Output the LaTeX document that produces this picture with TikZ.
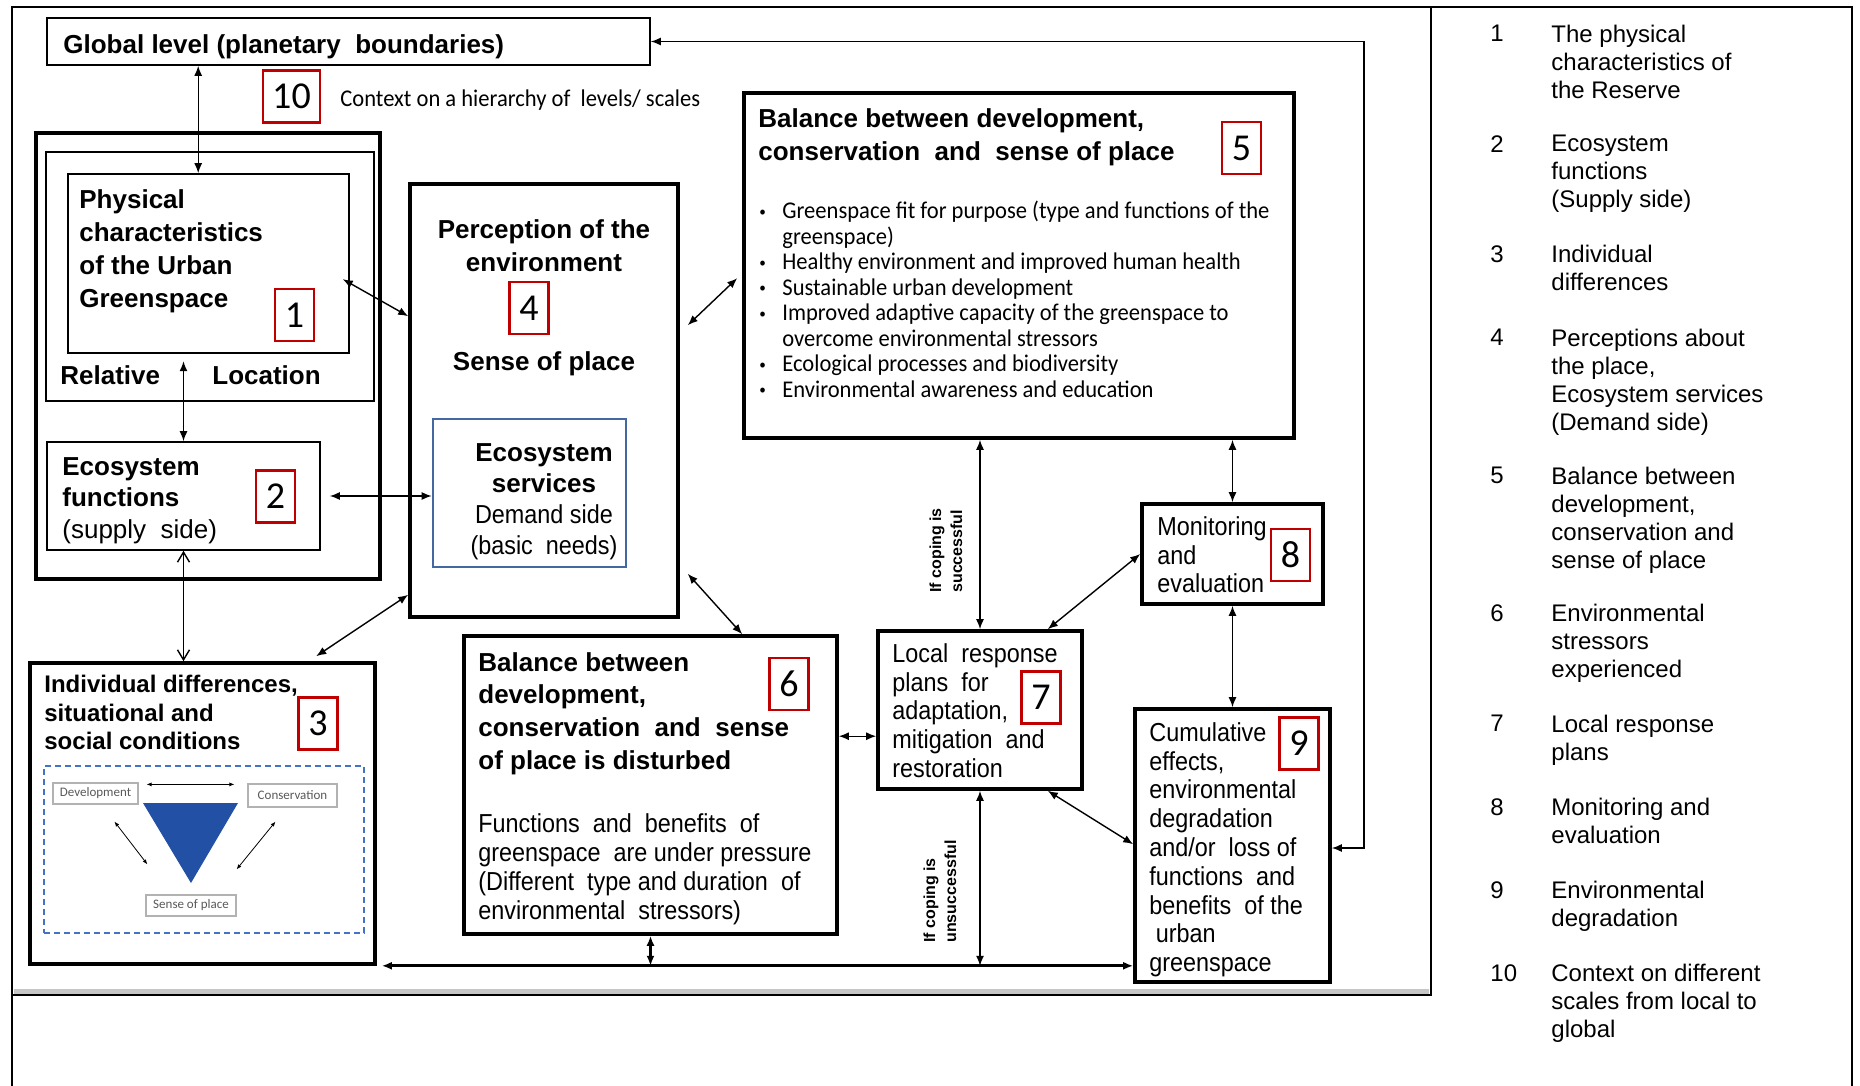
\documentclass[tikz,border=0pt]{standalone}
\usepackage{fontspec}
\setmainfont{Liberation Sans}
\newfontfamily\narrowfont[FakeStretch=0.9]{Liberation Sans}
\newfontfamily\calnarrow[FakeStretch=0.94]{Carlito}
\newfontfamily\calfont{Carlito}
\usetikzlibrary{arrows.meta,calc,fit}

\definecolor{numred}{RGB}{192,0,0}
\definecolor{esblue}{RGB}{68,104,160}
\definecolor{dashblue}{RGB}{68,114,196}
\definecolor{triblue}{RGB}{33,80,165}

\tikzset{>={Latex[length=5pt,width=4pt]}}
\tikzset{
  thinbox/.style={draw, line width=0.8pt, inner sep=0pt},
  thickbox/.style={draw, line width=1.8pt, inner sep=0pt},
  numbox/.style={draw=numred, line width=1.3pt, inner sep=3pt, minimum width=19.5pt,
    minimum height=26pt, font=\calfont\fontsize{19}{19}\selectfont},
  boldtxt/.style={anchor=north west, inner sep=0pt, align=left,
    font=\bfseries\fontsize{13}{16.5}\selectfont},
  plaintxt/.style={anchor=north west, inner sep=0pt, align=left,
    font=\narrowfont\fontsize{13}{14.4}\selectfont},
  link/.style={<->, line width=0.7pt},
  legnum/.style={anchor=north west, inner sep=0pt, font=\fontsize{12}{13.9}\selectfont},
  legtxt/.style={legnum, align=left},
  copetxt/.style={rotate=90, anchor=north west, inner sep=0pt, align=left,
    font=\bfseries\fontsize{8}{10.5}\selectfont},
  minibox/.style={draw=gray!60, fill=white, line width=0.6pt, inner sep=0pt,
    text=gray!70!black, font=\calfont\fontsize{6.5}{7}\selectfont},
  miniarrow/.style={>={Latex[length=2.5pt,width=2pt]}, <->, line width=0.4pt}
}

\newcommand{\blt}{\makebox[11.5pt][l]{\raisebox{0.25ex}{\fontsize{7}{7}\selectfont\textbullet}}}
\newcommand{\bltgap}{\hspace*{11.5pt}}

\begin{document}
\begin{tikzpicture}[x=0.5pt,y=-0.5pt]
\useasboundingbox (0,0) rectangle (1860,1086);

% outer frame and legend column
\draw[line width=1pt] (12,1086) -- (12,7) -- (1852,7) -- (1852,1086);
\draw[gray!45, line width=2.5pt] (14,991) -- (1429,991);
\draw[line width=1.4pt] (12,7) rectangle (1431,995);

% boxes
\node[thinbox, fit={(47,18) (650,65)}] (glob) {};
\node[thickbox, fit={(36,133) (380,579)}] (grp) {};
\node[thinbox, fit={(46,152) (374,401)}] (loc) {};
\node[thinbox, fit={(68,174) (349,353)}] (b1) {};
\node[thinbox, fit={(47,442) (320,550)}] (b2) {};
\node[thickbox, fit={(30,663) (375,964)}] (b3) {};
\node[thickbox, fit={(410,184) (678,617)}] (b4) {};
\node[draw=esblue, line width=1.3pt, inner sep=0pt, fit={(433,419) (626,567)}] (es) {};
\node[thickbox, fit={(744,93) (1294,438)}] (b5) {};
\node[thickbox, fit={(464,636) (837,934)}] (b6) {};
\node[thickbox, fit={(878,631) (1082,789)}] (b7) {};
\node[thickbox, fit={(1142,504) (1323,604)}] (b8) {};
\node[thickbox, fit={(1135,709) (1330,982)}] (b9) {};

% box texts
\node[boldtxt] (globtxt) at (63,34) {Global level (planetary\ \ boundaries)};
\node[anchor=base west, inner sep=0pt, font=\calnarrow\fontsize{12}{12}\selectfont] (ctx)
  at (340,107) {Context on a hierarchy of\ \ levels/ scales};
\node[boldtxt] (b1txt) at (79,189) {Physical\\characteristics\\of the Urban\\Greenspace};
\node[boldtxt, anchor=west] (rel) at (60,375) {Relative};
\node[boldtxt, anchor=west] (lctn) at (212,375) {Location};
\node[boldtxt, font=\bfseries\fontsize{13}{15.8}\selectfont] (b2txt) at (62,457)
  {Ecosystem\\functions\\\textmd{(supply\ \ side)}};
\node[boldtxt, font=\bfseries\fontsize{12}{14.25}\selectfont] (b3txt) at (44,675)
  {Individual differences,\\situational and\\social conditions};
\node[boldtxt, anchor=north, align=center] (b4txt) at (544,219) {Perception of the\\environment};
\node[anchor=base, inner sep=0pt, font=\bfseries\fontsize{13}{16}\selectfont] (sop4)
  at (544,370) {Sense of place};
\node[boldtxt, anchor=north, align=center, font=\bfseries\fontsize{13}{15.5}\selectfont] (estxt)
  at (544,443) {Ecosystem\\services\\{\narrowfont\mdseries Demand side}\\{\narrowfont\mdseries (basic\ \ needs)}};
\node[boldtxt] (b5txt) at (758,108) {Balance between development,\\conservation\ \ and\ \ sense of place};
\node[anchor=north west, inner sep=0pt, align=left, font=\calnarrow\fontsize{12}{12.75}\selectfont] (b5list)
  at (759,201) {\blt Greenspace fit for purpose (type and functions of the\\
  \bltgap greenspace)\\
  \blt Healthy environment and improved human health\\
  \blt Sustainable urban development\\
  \blt Improved adaptive capacity of the greenspace to\\
  \bltgap overcome environmental stressors\\
  \blt Ecological processes and biodiversity\\
  \blt Environmental awareness and education};
\node[boldtxt, font=\bfseries\fontsize{13}{16.3}\selectfont] (b6txt) at (478,652)
  {Balance between\\development,\\conservation\ \ and\ \ sense\\of place is disturbed};
\node[plaintxt, font=\narrowfont\fontsize{13}{14.5}\selectfont] (b6body) at (478,813)
  {Functions\ \ and\ \ benefits\ \ of\\greenspace\ \ are under pressure\\(Different\ \ type and duration\ \ of\\environmental\ \ stressors)};
\node[plaintxt] (b7txt) at (892,643) {Local\ \ response\\plans\ \ for\\adaptation,\\mitigation\ \ and\\restoration};
\node[plaintxt] (b8txt) at (1157,516) {Monitoring\\and\\evaluation};
\node[plaintxt] (b9txt) at (1149,722) {Cumulative\\effects,\\environmental\\degradation\\and/or\ \ loss of\\functions\ \ and\\benefits\ \ of the\\\ urban\\greenspace};

% number tags
\node[numbox] (n1) at (294.5,315) {1};
\node[numbox] (n2) at (275.5,496.5) {2};
\node[numbox] (n3) at (318,723.5) {3};
\node[numbox] (n4) at (529,308) {4};
\node[numbox] (n5) at (1241.5,148) {5};
\node[numbox] (n6) at (789,684) {6};
\node[numbox] (n7) at (1041,697.5) {7};
\node[numbox] (n8) at (1290.5,555) {8};
\node[numbox] (n9) at (1299,743.5) {9};
\node[numbox, minimum width=28.5pt] (n10) at (291.5,96.5) {10};

% development / conservation / sense of place triad
\node[draw=dashblue, dash pattern=on 3pt off 2pt, line width=0.8pt, inner sep=0pt,
  fit={(44,766) (364,933)}] (triad) {};
\node[minibox, minimum width=42.5pt, minimum height=10.5pt] (dev) at (95.5,793.5) {Development};
\node[minibox, minimum width=44.5pt, minimum height=11.5pt] (cons) at (292.5,795.5) {Conservation};
\node[minibox, minimum width=45pt, minimum height=10.5pt] (sop) at (191,905.5) {Sense of place};
\fill[triblue] (143,803) -- (238,803) -- (191,883) -- cycle;
\draw[miniarrow] ($(dev.north east)+(8,2)$) -- ($(cons.north west)+(-13,1)$);
\draw[miniarrow] ($(dev.south)+(19,17)$) -- ($(sop.north west)+(2,-30)$);
\draw[miniarrow] ($(cons.south)+(-17,14)$) -- ($(sop.north east)+(0,-25)$);

% links on the left
\coordinate (g1) at ($(b1.north west)+(131,0)$);
\draw[link] (g1) -- (g1 |- glob.south);
\draw[link] (b2.north) -- ++(0,-80);
\draw[>={Straight Barb[length=5pt,width=6pt]}, link] (b2.south) -- (b2.south |- b3.north);
\draw[link] ($(b2.east)+(9,0)$) -- (es.west |- b2.east);
\draw[link] ($(b1.north east)+(-7,106)$) -- ($(b4.north west)+(0,134)$);
\draw[link] ($(b3.north west)+(288,-5)$) -- ($(b4.south west)+(0,-24)$);

% links around the balance boxes
\draw[link] ($(b4.north east)+(8,143)$) -- ($(b5.north west)+(-5,187)$);
\draw[link] ($(b4.south east)+(8,-45)$) -- ($(b6.north west)+(280,0)$);
\coordinate (l67) at ($(b7.north west)+(0,107)$);
\draw[link] (l67 -| b6.east) -- (l67);
\draw[link] (b7.north) -- (b7.north |- b5.south);
\draw[link] (b8.north) -- (b8.north |- b5.south);
\draw[link] (b8.south) -- (b8.south |- b9.north);
\draw[link] ($(b7.north east)+(-36,0)$) -- (b8.west);
\draw[link] ($(b7.south east)+(-36,0)$) -- ($(b9.north west)+(0,137)$);

% bottom line
\coordinate (base3) at ($(b3.south east)+(5,0)$);
\draw[link, line width=1.4pt] (base3) -- (base3 -| b9.west);
\draw[link, line width=1.4pt] (b6.south) -- (b6.south |- base3);
\draw[link] (b7.south) -- (b7.south |- base3);

% feedback to the global level
\coordinate (fbturn) at (1364,848);
\draw[link] (glob.east) -| (fbturn) -- (fbturn -| b9.east);

\node[copetxt] (cope1) at (929,593) {If coping is\\successful};
\node[copetxt] (cope2) at (923,943) {If coping is\\unsuccessful};

% legend
\foreach \n/\y/\txt in {
  1/25/{The physical\\characteristics of\\the Reserve},
  2/135/{Ecosystem\\functions\\(Supply side)},
  3/245/{Individual\\differences},
  4/329/{Perceptions about\\the place,\\Ecosystem services\\(Demand side)},
  5/467/{Balance between\\development,\\conservation and\\sense of place},
  6/604/{Environmental\\stressors\\experienced},
  7/715/{Local response\\plans},
  8/798/{Monitoring and\\evaluation},
  9/881/{Environmental\\degradation},
  10/964/{Context on different\\scales from local to\\global}}
{
  \node[legnum] (ln\n) at (1490,\y) {\n};
  \node[legtxt] (lt\n) at (1551,\y) {\txt};
}
\end{tikzpicture}
\end{document}
